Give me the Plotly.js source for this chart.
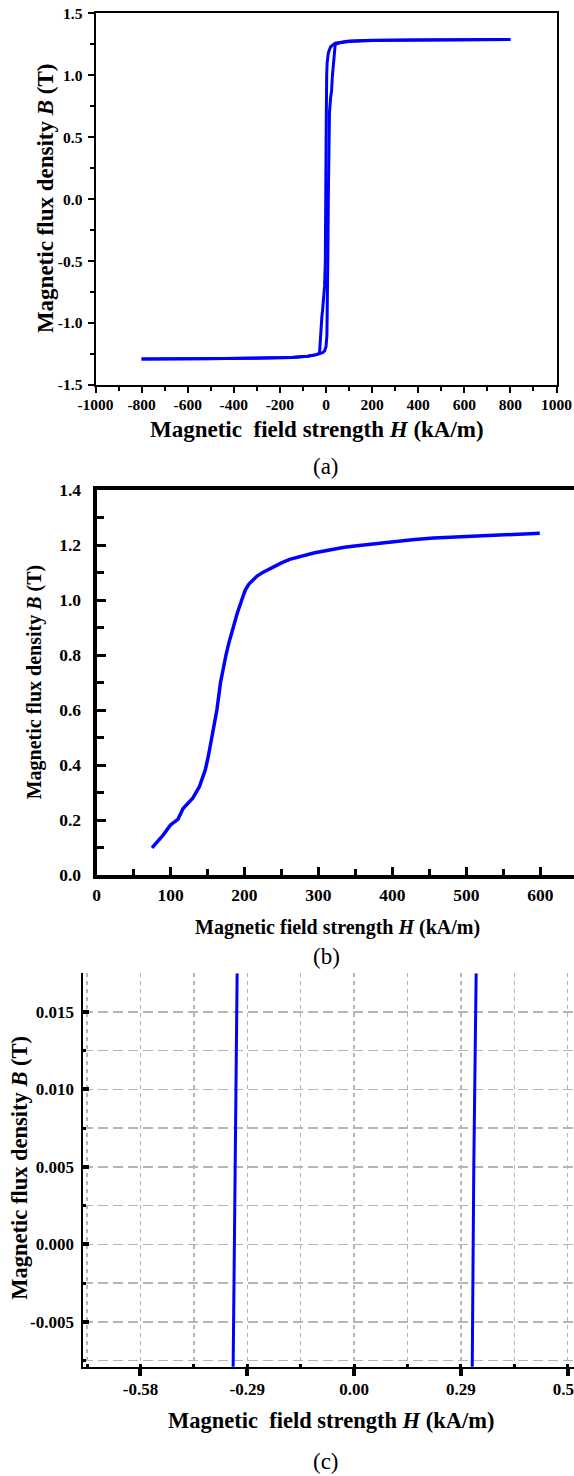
<!DOCTYPE html>
<html>
<head>
<meta charset="utf-8">
<script src="https://cdn.plot.ly/plotly-3.0.1.min.js"></script>
<style>
html,body{margin:0;padding:0;background:#fff;}
#chart{width:574px;height:1476px;}
</style>
</head>
<body>
<div id="chart"></div>
<script>
// ---------- Data ----------
// (a) full hysteresis loop, descending and ascending branches (H in kA/m, B in T)
var loopDescH = [800, 500, 300, 200, 100, 40, 20, 10, 5, 3, 1, 0, -1, -3, -6, -10, -15, -18, -22, -28, -40, -80, -150, -300, -500, -800];
var loopDescB = [1.288, 1.287, 1.285, 1.282, 1.276, 1.258, 1.23, 1.18, 1.10, 1.0, 0.6, 0.2, -0.2, -0.5, -0.7, -0.82, -0.9, -0.95, -1.1, -1.24, -1.255, -1.268, -1.278, -1.284, -1.288, -1.29];
var loopAscH = [-800, -500, -300, -150, -80, -40, -28, -15, -6, 0, 4, 7, 9, 10, 12, 15, 20, 24, 28, 34, 40, 60, 100, 200, 400, 800];
var loopAscB = [-1.29, -1.288, -1.284, -1.278, -1.268, -1.255, -1.25, -1.24, -1.225, -1.19, -1.1, -0.8, -0.3, 0.0, 0.4, 0.7, 0.82, 0.87, 1.0, 1.15, 1.25, 1.262, 1.272, 1.28, 1.285, 1.288];

// (b) initial magnetization curve
var magH = [75, 90, 100, 110, 117, 130, 139, 147, 151, 155.7, 159, 162.7, 167.6, 171, 175, 179, 184.4, 190, 196.3, 201, 206, 211, 217, 224, 232, 241, 250, 261, 278, 295, 315, 335, 355, 375, 395, 407, 430, 456, 485, 513, 555, 599];
var magB = [0.099, 0.145, 0.182, 0.202, 0.242, 0.279, 0.321, 0.382, 0.43, 0.50, 0.55, 0.60, 0.70, 0.75, 0.80, 0.845, 0.90, 0.95, 1.00, 1.036, 1.058, 1.073, 1.087, 1.099, 1.111, 1.124, 1.135, 1.148, 1.160, 1.172, 1.182, 1.192, 1.198, 1.204, 1.210, 1.216, 1.220, 1.225, 1.229, 1.233, 1.238, 1.243];

// (c) zoom around B = 0 (coercive field)
var zoomDescH = [-0.3284, -0.3235, -0.3176];
var zoomDescB = [-0.0079, 0.005, 0.0175];
var zoomAscH = [0.3208, 0.3250, 0.3314];
var zoomAscB = [-0.0079, 0.005, 0.0175];

// Tick values / labels
var aTickX = [-1000, -800, -600, -400, -200, 0, 200, 400, 600, 800, 1000];
var aTickXText = ['-1000', '-800', '-600', '-400', '-200', '0', '200', '400', '600', '800', '1000'];
var aTickY = [-1.5, -1.0, -0.5, 0.0, 0.5, 1.0, 1.5];
var aTickYText = ['-1.5', '-1.0', '-0.5', '0.0', '0.5', '1.0', '1.5'];
var bTickX = [0, 100, 200, 300, 400, 500, 600];
var bTickXText = ['0', '100', '200', '300', '400', '500', '600'];
var bTickY = [0, 0.2, 0.4, 0.6, 0.8, 1.0, 1.2, 1.4];
var bTickYText = ['0.0', '0.2', '0.4', '0.6', '0.8', '1.0', '1.2', '1.4'];
var cTickX = [-0.58, -0.29, 0, 0.29, 0.58];
var cTickXText = ['-0.58', '-0.29', '0.00', '0.29', '0.58'];
var cTickY = [-0.005, 0, 0.005, 0.010, 0.015];
var cTickYText = ['-0.005', '0.000', '0.005', '0.010', '0.015'];

// ---------- Layout helpers ----------
var W = 574, H = 1476;
function fx(p) { return p / W; }
function fy(p) { return 1 - p / H; }
var SERIF = 'Liberation Serif';
var BLUE = '#0000ff';

var traces = [
  {x: loopDescH, y: loopDescB, xaxis: 'x', yaxis: 'y', mode: 'lines', line: {color: BLUE, width: 3}, hoverinfo: 'skip'},
  {x: loopAscH, y: loopAscB, xaxis: 'x', yaxis: 'y', mode: 'lines', line: {color: BLUE, width: 3}, hoverinfo: 'skip'},
  {x: magH, y: magB, xaxis: 'x2', yaxis: 'y2', mode: 'lines', line: {color: BLUE, width: 3.5}, hoverinfo: 'skip'},
  {x: zoomDescH, y: zoomDescB, xaxis: 'x3', yaxis: 'y3', mode: 'lines', line: {color: BLUE, width: 3}, hoverinfo: 'skip'},
  {x: zoomAscH, y: zoomAscB, xaxis: 'x3', yaxis: 'y3', mode: 'lines', line: {color: BLUE, width: 3}, hoverinfo: 'skip'}
];

var tfA = {family: SERIF, size: 15.5, color: '#000', weight: 'bold'};
var tfB = {family: SERIF, size: 17.5, color: '#000', weight: 'bold'};
var tfC = {family: SERIF, size: 17, color: '#000', weight: 'bold'};

var cXRange = [-0.7353, 0.5971];
var GRID = '#b5b5b5';

var layout = {
  width: W, height: H,
  margin: {l: 0, r: 0, t: 0, b: 0},
  paper_bgcolor: '#fff', plot_bgcolor: '#fff',
  showlegend: false,
  // ----- (a) -----
  xaxis: {
    domain: [fx(95.5), fx(556.5)], anchor: 'y', range: [-1000, 1000],
    showline: true, linecolor: '#000', linewidth: 2, mirror: true,
    showgrid: false, zeroline: false,
    tickmode: 'array', tickvals: aTickX, ticktext: aTickXText,
    ticks: 'outside', ticklen: 6, tickwidth: 2, tickcolor: '#000',
    minor: {tickmode: 'linear', tick0: 0, dtick: 100, ticks: 'outside', ticklen: 4, tickwidth: 2, tickcolor: '#000'},
    tickfont: tfA, ticklabelstandoff: -2
  },
  yaxis: {
    domain: [fy(385), fy(13.3)], anchor: 'x', range: [-1.5, 1.5],
    showline: true, linecolor: '#000', linewidth: 2, mirror: true,
    showgrid: false, zeroline: false,
    tickmode: 'array', tickvals: aTickY, ticktext: aTickYText,
    ticks: 'outside', ticklen: 6, tickwidth: 2, tickcolor: '#000',
    minor: {tickmode: 'linear', tick0: 0, dtick: 0.25, ticks: 'outside', ticklen: 4, tickwidth: 2, tickcolor: '#000'},
    tickfont: tfA, ticklabelstandoff: 2
  },
  // ----- (b) -----
  xaxis2: {
    domain: [fx(96.5), 1], anchor: 'y2', range: [0, 645.3],
    showline: true, linecolor: '#000', linewidth: 4, mirror: true,
    showgrid: false, zeroline: false,
    tickmode: 'array', tickvals: bTickX, ticktext: bTickXText,
    ticks: 'inside', ticklen: 8, tickwidth: 3, tickcolor: '#000',
    minor: {tickmode: 'linear', tick0: 0, dtick: 50, ticks: 'inside', ticklen: 6, tickwidth: 3, tickcolor: '#000'},
    tickfont: tfB, ticklabelstandoff: 1, ticklabeloverflow: 'allow'
  },
  yaxis2: {
    domain: [fy(875), fy(490)], anchor: 'x2', range: [0, 1.4],
    showline: true, linecolor: '#000', linewidth: 4, mirror: false,
    showgrid: false, zeroline: false,
    tickmode: 'array', tickvals: bTickY, ticktext: bTickYText,
    ticks: 'inside', ticklen: 9, tickwidth: 3, tickcolor: '#000',
    minor: {tickmode: 'linear', tick0: 0, dtick: 0.1, ticks: 'inside', ticklen: 7, tickwidth: 3, tickcolor: '#000'},
    tickfont: tfB, ticklabelstandoff: 8, ticklabeloverflow: 'allow'
  },
  // ----- (c) -----
  xaxis3: {
    domain: [fx(83.3), 1], anchor: 'y3', range: cXRange,
    showline: true, linecolor: '#000', linewidth: 2, mirror: false,
    showgrid: true, gridcolor: GRID, gridwidth: 1.5, griddash: '4px,4px', zeroline: false,
    tickmode: 'array', tickvals: cTickX, ticktext: cTickXText,
    ticks: 'outside', ticklen: 7, tickwidth: 4, tickcolor: '#000',
    minor: {tickmode: 'linear', tick0: 0, dtick: 0.145, ticks: 'inside', ticklen: 3, tickwidth: 3, tickcolor: '#000',
            showgrid: true, gridcolor: GRID, gridwidth: 1.5, griddash: '4px,4px'},
    tickfont: tfC, ticklabelstandoff: -2, ticklabeloverflow: 'allow'
  },
  xaxis4: {
    overlaying: 'x3', anchor: 'y3', range: cXRange, side: 'bottom',
    showline: false, showgrid: false, zeroline: false, showticklabels: false,
    tickmode: 'array', tickvals: cTickX,
    ticks: 'inside', ticklen: 7, tickwidth: 4, tickcolor: '#000'
  },
  yaxis3: {
    domain: [fy(1367.3), fy(973.3)], anchor: 'x3', range: [-0.00794, 0.01749],
    showline: true, linecolor: '#000', linewidth: 2, mirror: false,
    showgrid: true, gridcolor: GRID, gridwidth: 1.5, griddash: '10px,5px', zeroline: false,
    tickmode: 'array', tickvals: cTickY, ticktext: cTickYText,
    ticks: 'inside', ticklen: 6, tickwidth: 4, tickcolor: '#000',
    minor: {tickmode: 'linear', tick0: 0, dtick: 0.0025, ticks: 'inside', ticklen: 3, tickwidth: 3, tickcolor: '#000',
            showgrid: true, gridcolor: GRID, gridwidth: 1.5, griddash: '10px,5px'},
    tickfont: tfC, ticklabelstandoff: 4, ticklabeloverflow: 'allow'
  },
  annotations: [
    // (a)
    {text: '<b>Magnetic\u00a0 field strength <i>H</i> (kA/m)</b>', xref: 'paper', yref: 'paper', x: fx(316.8), y: fy(429), xanchor: 'center', yanchor: 'middle', showarrow: false, font: {family: SERIF, size: 23, color: '#000'}},
    {text: '<b>Magnetic flux density <i>B</i> (T)</b>', xref: 'paper', yref: 'paper', x: fx(45.8), y: fy(198.3), xanchor: 'center', yanchor: 'middle', textangle: -90, showarrow: false, font: {family: SERIF, size: 23, color: '#000'}},
    {text: '(a)', xref: 'paper', yref: 'paper', x: fx(326), y: fy(466), xanchor: 'center', yanchor: 'middle', showarrow: false, font: {family: SERIF, size: 23, color: '#000'}},
    // (b)
    {text: '<b>Magnetic field strength <i>H</i> (kA/m)</b>', xref: 'paper', yref: 'paper', x: fx(337.3), y: fy(927), xanchor: 'center', yanchor: 'middle', showarrow: false, font: {family: SERIF, size: 20, color: '#000'}},
    {text: '<b>Magnetic flux density <i>B</i> (T)</b>', xref: 'paper', yref: 'paper', x: fx(34.8), y: fy(682.5), xanchor: 'center', yanchor: 'middle', textangle: -90, showarrow: false, font: {family: SERIF, size: 20, color: '#000'}},
    {text: '(b)', xref: 'paper', yref: 'paper', x: fx(326), y: fy(957), xanchor: 'center', yanchor: 'middle', showarrow: false, font: {family: SERIF, size: 23, color: '#000'}},
    // (c)
    {text: '<b>Magnetic\u00a0 field strength <i>H</i> (kA/m)</b>', xref: 'paper', yref: 'paper', x: fx(330.6), y: fy(1420), xanchor: 'center', yanchor: 'middle', showarrow: false, font: {family: SERIF, size: 22.5, color: '#000'}},
    {text: '<b>Magnetic flux density <i>B</i> (T)</b>', xref: 'paper', yref: 'paper', x: fx(19.2), y: fy(1167.5), xanchor: 'center', yanchor: 'middle', textangle: -90, showarrow: false, font: {family: SERIF, size: 22.5, color: '#000'}},
    {text: '(c)', xref: 'paper', yref: 'paper', x: fx(326), y: fy(1461), xanchor: 'center', yanchor: 'middle', showarrow: false, font: {family: SERIF, size: 23, color: '#000'}}
  ]
};

Plotly.newPlot('chart', traces, layout, {staticPlot: true, displayModeBar: false});
</script>
</body>
</html>
